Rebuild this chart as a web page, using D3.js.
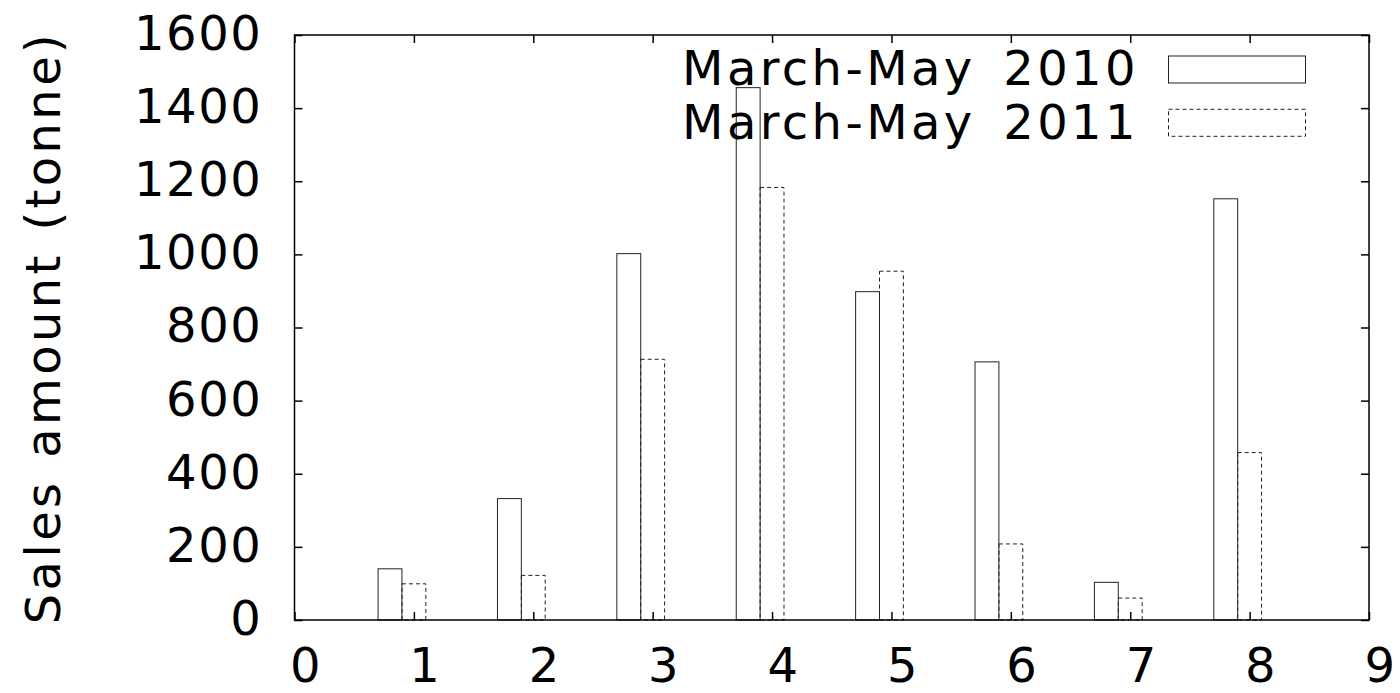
<!DOCTYPE html>
<html>
<head>
<meta charset="utf-8">
<script src="https://cdn.jsdelivr.net/npm/d3@7"></script>
<style>
    body { margin: 0; background: #fff; }
    text { font-family: "DejaVu Sans", sans-serif; fill: #000; }
</style>
</head>
<body>
<script>
(function(){

    //chart data
    var categories = [1, 2, 3, 4, 5, 6, 7, 8];
    var sales2010 = [140, 332, 1002, 1456, 898, 706, 103, 1152];
    var sales2011 = [99, 122, 713, 1183, 954, 208, 60, 458];
    var seriesNames = ["March-May 2010", "March-May 2011"];
    var xTicks = [0, 1, 2, 3, 4, 5, 6, 7, 8, 9];
    var yTicks = [0, 200, 400, 600, 800, 1000, 1200, 1400, 1600];

    //frame dimensions
    var width = 1400,
        height = 693,
        left = 294.5,
        right = 1369,
        top = 35,
        bottom = 620,
        tickLen = 8;

    var svg = d3.select("body")
        .append("svg")
        .attr("width", width)
        .attr("height", height);

    var x = d3.scaleLinear().domain([0, 9]).range([left, right]);
    var y = d3.scaleLinear().domain([0, 1600]).range([bottom, top]);

    //bars: 2010 left of the category, 2011 on it
    var barW = x(0.2) - x(0);
    var series = [
        {values: sales2010, offset: -0.3, dash: null},
        {values: sales2011, offset: -0.1, dash: "4,3"}
    ];

    series.forEach(function(s){
        svg.selectAll(null)
            .data(categories)
            .enter()
            .append("rect")
            .attr("x", function(d){ return x(d + s.offset); })
            .attr("y", function(d, i){ return y(s.values[i]); })
            .attr("width", barW)
            .attr("height", function(d, i){ return y(0) - y(s.values[i]); })
            .style("fill", "none")
            .style("stroke", "#222")
            .style("stroke-width", 1)
            .style("stroke-dasharray", s.dash);
    });

    //axes with inward ticks on all sides
    var fontSize = 48;

    var bottomAxis = svg.append("g")
        .attr("transform", "translate(0," + bottom + ")")
        .call(d3.axisBottom(x).tickValues(xTicks).tickSizeInner(-tickLen).tickSizeOuter(0)
            .tickPadding(28).tickFormat(d3.format("d")));
    var topAxis = svg.append("g")
        .attr("transform", "translate(0," + top + ")")
        .call(d3.axisTop(x).tickValues(xTicks).tickSizeInner(-tickLen).tickSizeOuter(0).tickFormat(""));
    var leftAxis = svg.append("g")
        .attr("transform", "translate(" + left + ",0)")
        .call(d3.axisLeft(y).tickValues(yTicks).tickSizeInner(-tickLen).tickSizeOuter(0)
            .tickPadding(32).tickFormat(d3.format("d")));
    var rightAxis = svg.append("g")
        .attr("transform", "translate(" + right + ",0)")
        .call(d3.axisRight(y).tickValues(yTicks).tickSizeInner(-tickLen).tickSizeOuter(0).tickFormat(""));

    [bottomAxis, topAxis, leftAxis, rightAxis].forEach(function(a){
        a.select(".domain").remove();
        a.selectAll(".tick line").style("stroke", "#000").style("stroke-width", 1.5);
        a.selectAll("text")
            .style("font-family", "'DejaVu Sans', sans-serif")
            .style("font-size", fontSize + "px")
            .style("letter-spacing", "1.6px")
            .style("fill", "#000");
    });
    bottomAxis.selectAll("text").attr("dy", "0.71em").attr("dx", 11);
    leftAxis.selectAll("text").attr("dy", "0.3em");

    //plot border
    svg.append("rect")
        .attr("x", left)
        .attr("y", top)
        .attr("width", right - left)
        .attr("height", bottom - top)
        .style("fill", "none")
        .style("stroke", "#000")
        .style("stroke-width", 1.5);

    //y axis title
    svg.append("text")
        .attr("transform", "translate(60," + ((top + bottom) / 2) + ") rotate(-90)")
        .attr("text-anchor", "middle")
        .style("font-size", fontSize + "px")
        .style("letter-spacing", "3.4px")
        .style("word-spacing", "3px")
        .text("Sales amount (tonne)");

    //legend
    var legend = svg.selectAll(".legend")
        .data(seriesNames)
        .enter()
        .append("g")
        .attr("class", "legend")
        .attr("transform", function(d, i){ return "translate(0," + (68 + i * 53.3) + ")"; });

    legend.append("text")
        .attr("x", 1139)
        .attr("dy", "0.36em")
        .attr("text-anchor", "end")
        .style("font-size", fontSize + "px")
        .style("letter-spacing", "3.4px")
        .style("word-spacing", "9px")
        .text(function(d){ return d; });

    legend.append("rect")
        .attr("x", 1168.5)
        .attr("y", -12)
        .attr("width", 137)
        .attr("height", 27)
        .style("fill", "none")
        .style("stroke", "#222")
        .style("stroke-width", 1)
        .style("stroke-dasharray", function(d, i){ return series[i].dash; });

})();
</script>
</body>
</html>
